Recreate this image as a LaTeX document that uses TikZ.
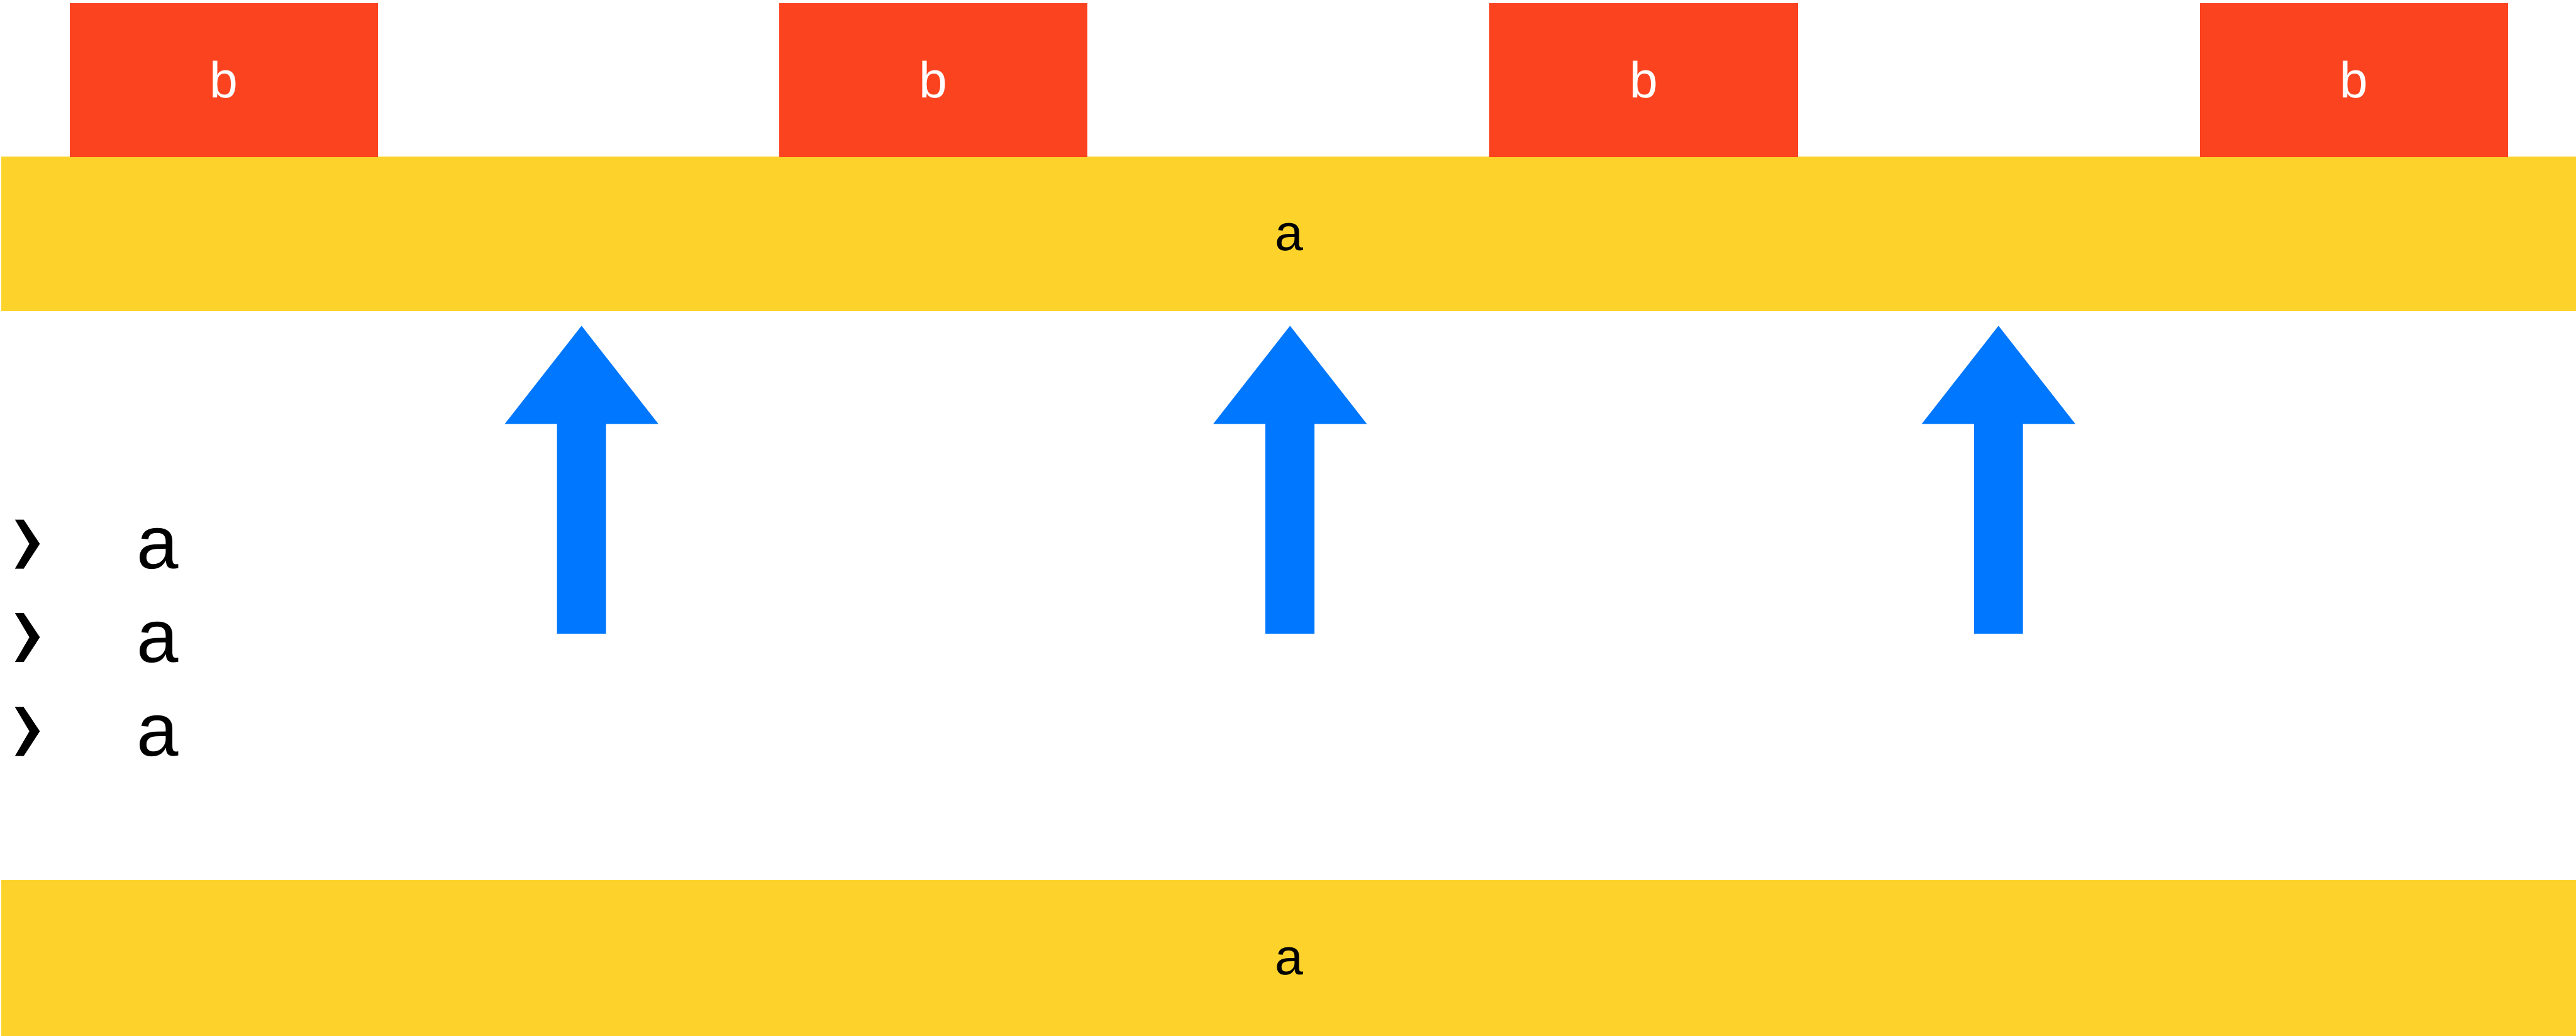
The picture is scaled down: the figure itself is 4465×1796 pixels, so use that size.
\documentclass[tikz,border=0pt]{standalone}
\usepackage{fontspec}
\setmainfont{Liberation Sans}
\definecolor{barYellow}{HTML}{FDD32B}
\definecolor{boxRed}{HTML}{FC4320}
\definecolor{arrowBlue}{HTML}{0077FF}
\tikzset{
  redbox/.style={fill=boxRed, draw=none, inner sep=0pt, minimum width=5.34cm, minimum height=2.67cm,
    text=white, font=\fontsize{25}{30}\selectfont},
  barbox/.style={fill=barYellow, draw=none, inner sep=0pt, minimum width=44.61cm,
    text=black, font=\fontsize{25}{30}\selectfont, text height=0.58cm, text depth=0pt},
  bluearrow/.style={fill=arrowBlue, draw=none},
  chevron/.style={fill=black, draw=none},
  itemtext/.style={inner sep=0pt, anchor=base west, font=\fontsize{37}{44}\selectfont}
}
\begin{document}
\begin{tikzpicture}[x=0.01cm, y=-0.01cm]
\useasboundingbox (0,0) rectangle (4465,1796);
% top bar and red boxes
\node[barbox, minimum height=2.67cm] (topbar) at (2234.5,405.5) {a};
\node[redbox] (b1) at (388,138.5) {b};
\node[redbox] (b2) at (1618,138.5) {b};
\node[redbox] (b3) at (2849,138.5) {b};
\node[redbox] (b4) at (4080,138.5) {b};
% bottom bar
\node[barbox, minimum height=2.70cm] (botbar) at (2234.5,1661) {a};
% arrows
\foreach \c in {1008,2236,3464} {
  \fill[bluearrow] (\c,565) -- (\c+133,735) -- (\c+42.5,735) -- (\c+42.5,1099)
    -- (\c-42.5,1099) -- (\c-42.5,735) -- (\c-133,735) -- cycle;
}
% bullets
\foreach \B/\n in {986/1,1148/2,1311/3} {
  \fill[chevron] (26,\B-85) -- (41,\B-85) -- (69,\B-43) -- (41,\B) -- (26,\B) -- (51,\B-43) -- cycle;
  \node[itemtext] (item\n) at (236,\B) {a};
}
\end{tikzpicture}
\end{document}
